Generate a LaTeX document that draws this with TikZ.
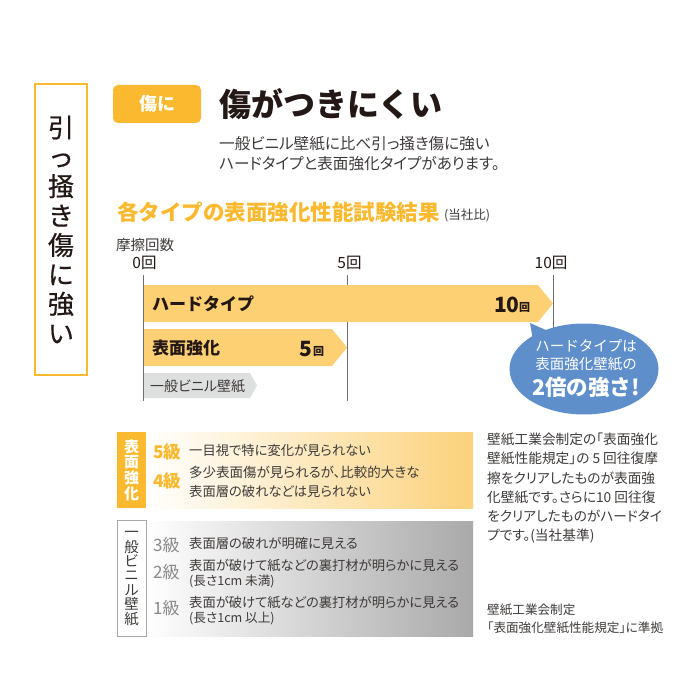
\documentclass[tikz,border=0pt]{standalone}
\usepackage{fontspec}
\setmainfont{Noto Sans CJK JP}
\newcommand\sq{\rule[-.12em]{0pt}{1em}}
\newcommand\pk{\addfontfeature{RawFeature=+palt}}
\definecolor{amber}{HTML}{FBB92F}
\definecolor{barY}{HTML}{FDD074}
\definecolor{panelY}{HTML}{FBD27C}
\definecolor{panelYm}{HTML}{FDEBC4}
\definecolor{barG}{HTML}{DEDFDF}
\definecolor{panelG}{HTML}{A9A9A9}
\definecolor{panelGm}{HTML}{DCDCDC}
\definecolor{ink}{HTML}{231815}
\definecolor{soft}{HTML}{3E3A39}
\definecolor{tick}{HTML}{6E6E6E}
\definecolor{grade}{HTML}{8A8A8A}
\definecolor{bubble}{HTML}{5F8FCB}
\tikzset{
  sz/.style={font=\fontsize{#1pt}{#1pt}\selectfont},
  tx/.style={inner sep=0pt,anchor=west,text=soft,font=\fontsize{#1pt}{#1pt}\selectfont\pk},
  bd/.style={inner sep=0pt,anchor=west,text=ink,font=\fontsize{#1pt}{#1pt}\selectfont\bfseries},
  cc/.style={inner sep=0pt,anchor=center,text=ink,sz=#1},
  tickline/.style={draw=tick,line width=.8pt},
}
\begin{document}
\begin{tikzpicture}[x=1pt,y=-1pt]
\useasboundingbox (0,0) rectangle (700,700);
% left title box
\node[draw=amber,line width=1.5pt,minimum width=52pt,minimum height=291pt,inner sep=0pt,anchor=center,
  text=ink,align=center,font=\fontsize{26pt}{29.4pt}\selectfont\addfontfeature{FakeBold=0.6}] (side) at (61,229.5)
  {引\\っ\\掻\\き\\傷\\に\\強\\い};
% header
\node[fill=amber,rounded corners=5pt,minimum width=88pt,minimum height=38pt,inner sep=0pt,text=white,
  font=\fontsize{18pt}{18pt}\selectfont\bfseries] (badge) at (157,104) {\sq 傷に};
\node[bd=32] (title) at (219,104) {\sq 傷がつきにくい};
\node[tx=15.6] (sub1) at (219,144) {\sq 一般ビニル壁紙に比べ引っ掻き傷に強い};
\node[tx=15.6] (sub2) at (219,164) {\sq ハードタイプと表面強化タイプがあります。};
\node[bd=21.5,text=amber] (head) at (117,212) {\sq 各タイプの表面強化性能試験結果};
\node[tx=12.5] (self) at (444,215) {\sq (当社比)};
\node[tx=14.5] (count) at (116,245) {\sq 摩擦回数};
% axis
\node[cc=15.5] (t0) at (144.5,263) {\sq 0回};
\node[cc=15.5] (t5) at (349.5,263) {\sq 5回};
\node[cc=15.5] (t10) at (551,263) {\sq 10回};
\coordinate (a0) at (143.5,275); \coordinate (b0) at (143.5,401);
\coordinate (a5) at (347.5,275); \coordinate (b5) at (347.5,401);
\coordinate (a10) at (553.5,275); \coordinate (b10) at (553.5,330);
\draw[tickline] (a5) -- (b5);
\draw[tickline] (a10) -- (b10);
% bars
\fill[barY] (143.5,285) -- (538,285) -- (553,303.5) -- (538,322) -- (143.5,322) -- cycle;
\fill[barY] (143.5,329) -- (332,329) -- (347,347.5) -- (332,366) -- (143.5,366) -- cycle;
\fill[barG] (143.5,373) -- (250,373) -- (257,385.5) -- (250,398) -- (143.5,398) -- cycle;
\draw[tickline] (a0) -- (b0);
\node[bd=17] (hard) at (152,304) {\sq ハードタイプ};
\node[bd=21] (n10) at (494,305) {\sq 10};
\node[bd=11] (u10) at (519,307) {\sq 回};
\node[bd=17] (surf) at (152,348) {\sq 表面強化};
\node[bd=21] (n5) at (299,349) {\sq 5};
\node[bd=11] (u5) at (313,351) {\sq 回};
\node[tx=14] (vinyl) at (150,386) {\sq 一般ビニル壁紙};
% callout
\fill[bubble] (584,369) ellipse [x radius=74.5pt,y radius=45.5pt];
\fill[bubble] (530,323) -- (555,334) -- (535,352) -- cycle;
\node[cc=14.5,text=white] (c1) at (586,346) {\sq ハードタイプは};
\node[cc=14.5,text=white] (c2) at (586,364) {\sq 表面強化壁紙の};
\node[cc=21,text=white,font=\fontsize{21.5pt}{21.5pt}\selectfont\bfseries] (c3) at (586,387) {\sq 2倍の強さ!};
% yellow panel
\shade[left color=white,middle color=panelYm,right color=panelY,shading angle=90] (146,432) rectangle (473,508);
\node[fill=amber,minimum width=29pt,minimum height=76pt,inner sep=0pt,text=white,align=center,
  font=\fontsize{15pt}{15.6pt}\selectfont\bfseries] (ylabel) at (131.5,470) {表\\面\\強\\化};
\node[bd=17.5,text=amber] (g5) at (153,452) {\sq 5級};
\node[bd=17.5,text=amber] (g4) at (153,481) {\sq 4級};
\node[tx=13.3] (y1) at (189,450) {\sq 一目視で特に変化が見られない};
\node[tx=13.5] (y2) at (189,472) {\sq 多少表面傷が見られるが、比較的大きな};
\node[tx=13.3] (y3) at (189,491) {\sq 表面層の破れなどは見られない};
% grey panel
\shade[left color=white,middle color=panelGm,right color=panelG,shading angle=90] (146,521) rectangle (473,636);
\node[draw=panelG,line width=.8pt,fill=white,minimum width=29pt,minimum height=116pt,inner sep=0pt,text=soft,align=center,
  font=\fontsize{14.5pt}{14.4pt}\selectfont] (glabel) at (131.5,578.5) {一\\般\\ビ\\ニ\\ル\\壁\\紙};
\node[tx=17,text=grade] (g3) at (153,545) {\sq 3級};
\node[tx=17,text=grade] (g2) at (153,572) {\sq 2級};
\node[tx=17,text=grade] (g1) at (153,608) {\sq 1級};
\node[tx=13.3] (z1) at (189,543) {\sq 表面層の破れが明確に見える};
\node[tx=13.3] (z2) at (189,565) {\sq 表面が破けて紙などの裏打材が明らかに見える};
\node[tx=12.6] (z3) at (189,581) {\sq (長さ1cm 未満)};
\node[tx=13.3] (z4) at (189,602) {\sq 表面が破けて紙などの裏打材が明らかに見える};
\node[tx=12.6] (z5) at (189,618) {\sq (長さ1cm 以上)};
% right notes
\node[tx=13.7] (r1) at (487,439) {\sq 壁紙工業会制定の「表面強化};
\node[tx=13.7] (r2) at (487,458) {\sq 壁紙性能規定」の 5 回往復摩};
\node[tx=13.7] (r3) at (487,478) {\sq 擦をクリアしたものが表面強};
\node[tx=13.7] (r4) at (487,497) {\sq 化壁紙です。さらに10 回往復};
\node[tx=13.7] (r5) at (487,516) {\sq をクリアしたものがハードタイ};
\node[tx=13.7] (r6) at (487,536) {\sq プです。(当社基準)};
\node[tx=12.6] (r7) at (487,610) {\sq 壁紙工業会制定};
\node[tx=12.6] (r8) at (487,628) {\sq 「表面強化壁紙性能規定」に準拠};
\end{tikzpicture}
\end{document}
